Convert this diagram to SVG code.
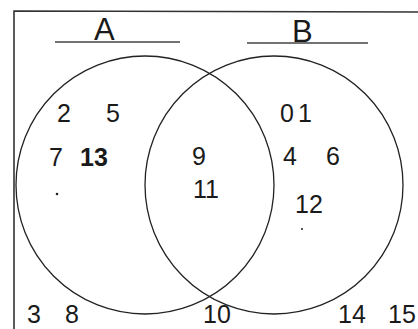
<svg xmlns="http://www.w3.org/2000/svg" width="418" height="329" viewBox="0 0 418 329">
<style>
.ln{fill:none;stroke:#222;stroke-width:1.3}
.fr{fill:none;stroke:#333;stroke-width:1.6}
.ul{fill:none;stroke:#444;stroke-width:1.4}
.t{font-family:"Liberation Sans",Arial,sans-serif;font-size:25px;fill:#1a1a1a}
.h{font-family:"Liberation Sans",Arial,sans-serif;font-size:31px;fill:#1a1a1a}
</style>
<rect width="418" height="329" fill="#ffffff"/>
<g id="frame">
<path class="fr" d="M14 330 L14 11 L418 12"/>
</g>
<g id="setA">
<circle class="ln" cx="145" cy="185" r="129"/>
<line class="ul" x1="55" y1="42" x2="180" y2="42"/>
<text class="h" x="94" y="40">A</text>
</g>
<g id="setB">
<circle class="ln" cx="274" cy="185" r="129"/>
<line class="ul" x1="247" y1="43" x2="368" y2="43"/>
<text class="h" x="292" y="42">B</text>
</g>
<g id="elements">
<text class="t" x="57" y="122">2</text>
<text class="t" x="106" y="122">5</text>
<text class="t" x="49" y="166">7</text>
<text class="t" x="80" y="166" font-weight="bold">13</text>
<circle cx="57" cy="194" r="1.3" fill="#222"/>
<text class="t" x="192" y="165">9</text>
<text class="t" x="193" y="198">11</text>
<text class="t" x="280" y="122">0</text>
<text class="t" x="298" y="122">1</text>
<text class="t" x="283" y="165">4</text>
<text class="t" x="326" y="165">6</text>
<text class="t" x="295" y="213">12</text>
<circle cx="302" cy="229" r="1" fill="#222"/>
<text class="t" x="27" y="323">3</text>
<text class="t" x="65" y="323">8</text>
<text class="t" x="203" y="323">10</text>
<text class="t" x="338" y="323">14</text>
<text class="t" x="388" y="323">15</text>
</g>
</svg>
